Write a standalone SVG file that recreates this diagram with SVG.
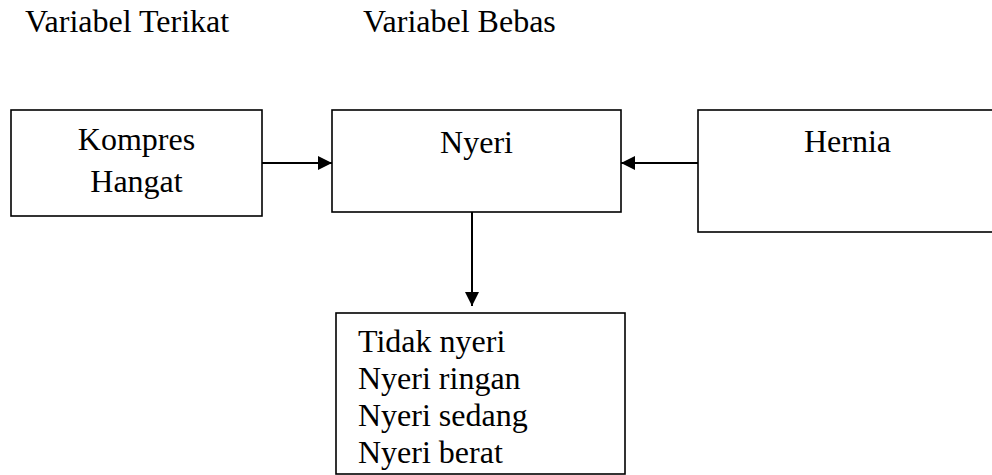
<svg xmlns="http://www.w3.org/2000/svg" width="992" height="475" viewBox="0 0 992 475">
<style>
text{font-family:"Liberation Serif","Times New Roman",serif;font-size:32px;fill:#000}
.box{fill:#fff;stroke:#000;stroke-width:1.6}
.con{stroke:#000;stroke-width:2;fill:none}
</style>
<defs>
<marker id="ah" viewBox="0 0 14 14" refX="14" refY="7" markerWidth="14" markerHeight="14" markerUnits="userSpaceOnUse" orient="auto">
<path d="M0,0 L14,7 L0,14 Z" fill="#000"/>
</marker>
</defs>
<rect width="992" height="475" fill="#fff"/>
<g id="headers">
<text x="25" y="32">Variabel Terikat</text>
<text x="363" y="32">Variabel Bebas</text>
</g>
<g id="kompres">
<rect class="box" x="11" y="110" width="251" height="106"/>
<text x="136.5" y="150" text-anchor="middle">Kompres</text>
<text x="136.5" y="192" text-anchor="middle">Hangat</text>
</g>
<g id="nyeri">
<rect class="box" x="332" y="110" width="289" height="102"/>
<text x="476.5" y="153" text-anchor="middle">Nyeri</text>
</g>
<g id="hernia">
<rect class="box" x="698" y="110" width="300" height="122"/>
<text x="847.5" y="152" text-anchor="middle">Hernia</text>
</g>
<g id="kategori">
<rect class="box" x="336" y="313" width="289" height="161"/>
<text x="358" y="352">Tidak nyeri</text>
<text x="358" y="389">Nyeri ringan</text>
<text x="358" y="426">Nyeri sedang</text>
<text x="358" y="463">Nyeri berat</text>
</g>
<g id="connectors">
<line class="con" x1="262" y1="163" x2="332" y2="163" marker-end="url(#ah)"/>
<line class="con" x1="698" y1="163" x2="621" y2="163" marker-end="url(#ah)"/>
<line class="con" x1="472" y1="212" x2="472" y2="306" marker-end="url(#ah)"/>
</g>
</svg>
